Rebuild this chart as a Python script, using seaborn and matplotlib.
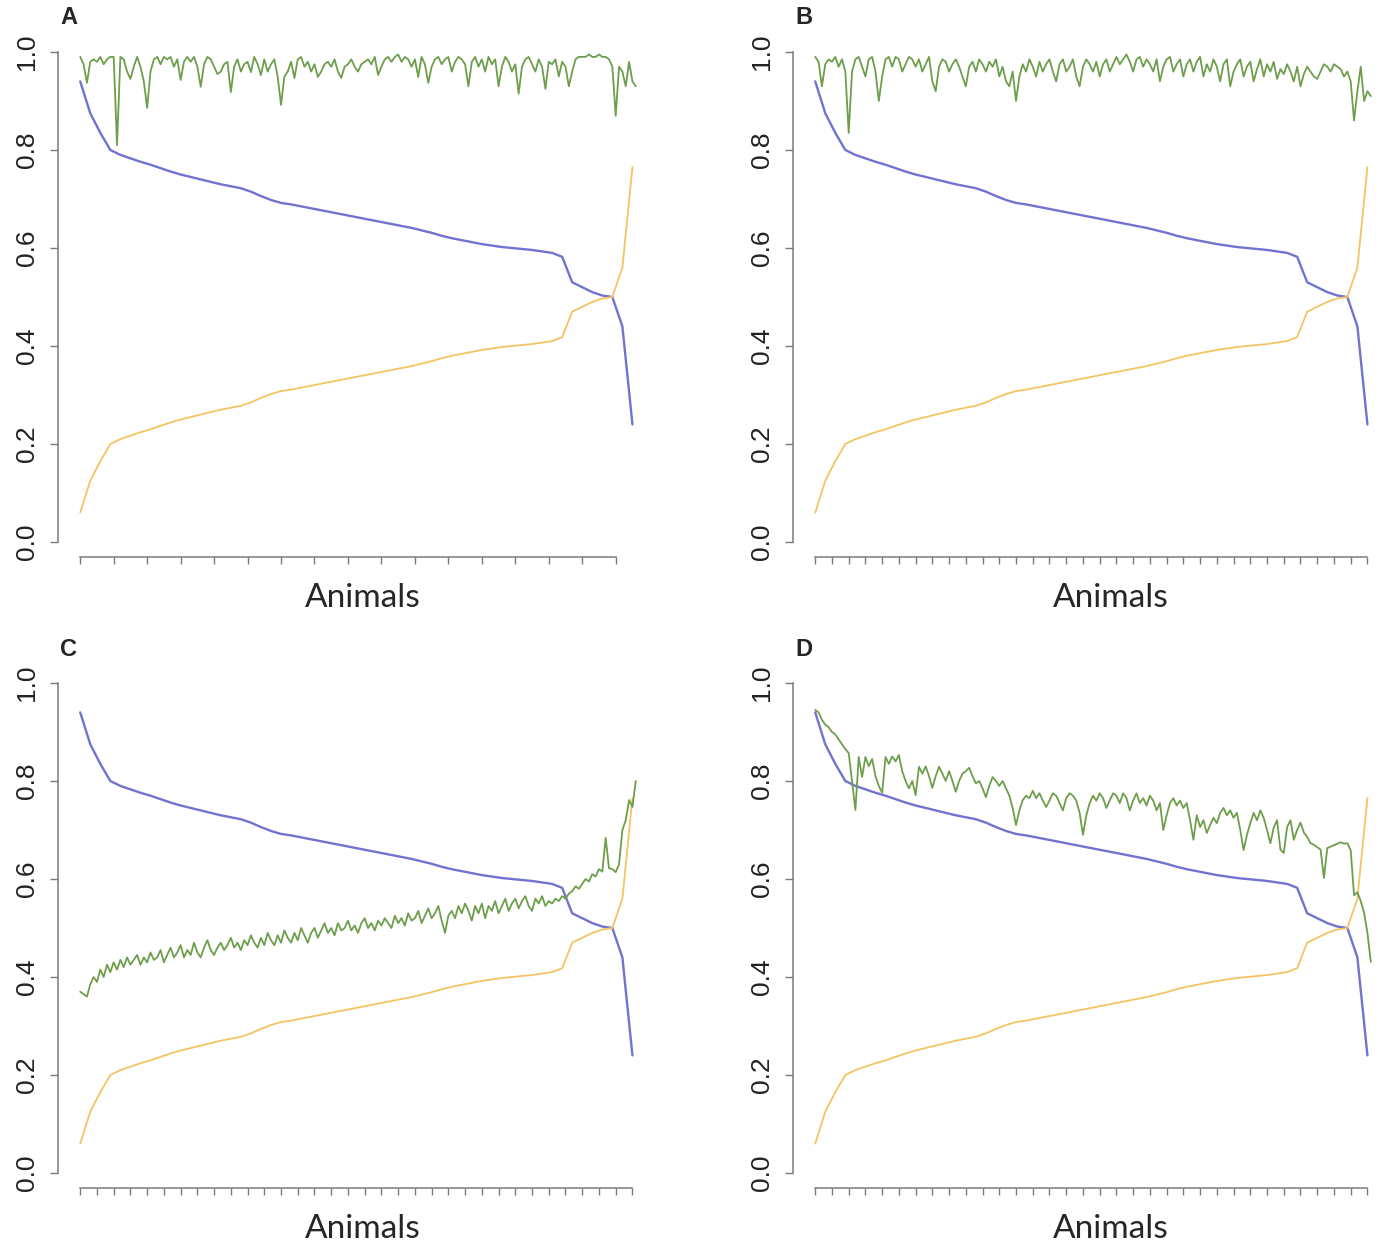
import numpy as np
import matplotlib
matplotlib.use("Agg")
import matplotlib.pyplot as plt
import seaborn as sns

# Animals ordered along the x axis
animals = np.arange(1, 168)
smooth_animals = np.arange(1, 167, 3)

# Smooth curves (same in all four panels), read every 3rd animal
blue_line = [0.940, 0.875, 0.835, 0.800, 0.790, 0.783, 0.776, 0.770, 0.763, 0.756,
             0.750, 0.745, 0.740, 0.735, 0.730, 0.726, 0.722, 0.715, 0.706, 0.698,
             0.692, 0.689, 0.685, 0.681, 0.677, 0.673, 0.669, 0.665, 0.661, 0.657,
             0.653, 0.649, 0.645, 0.641, 0.636, 0.631, 0.625, 0.620, 0.616, 0.612,
             0.608, 0.605, 0.602, 0.600, 0.598, 0.596, 0.593, 0.590, 0.582, 0.530,
             0.520, 0.510, 0.503, 0.500, 0.440, 0.240]
yellow_line = [0.060, 0.125, 0.165, 0.200, 0.210, 0.217, 0.224, 0.230, 0.237, 0.244,
               0.250, 0.255, 0.260, 0.265, 0.270, 0.274, 0.278, 0.285, 0.294, 0.302,
               0.308, 0.311, 0.315, 0.319, 0.323, 0.327, 0.331, 0.335, 0.339, 0.343,
               0.347, 0.351, 0.355, 0.359, 0.364, 0.369, 0.375, 0.380, 0.384, 0.388,
               0.392, 0.395, 0.398, 0.400, 0.402, 0.404, 0.407, 0.410, 0.418, 0.470,
               0.480, 0.490, 0.497, 0.500, 0.560, 0.765]

# Noisy green curve, one per panel
green_a = [0.99, 0.975, 0.937, 0.98, 0.985, 0.98, 0.99, 0.975, 0.985, 0.99,
           0.99, 0.81, 0.99, 0.985, 0.96, 0.945, 0.97, 0.99, 0.97, 0.94,
           0.886, 0.96, 0.985, 0.99, 0.975, 0.99, 0.985, 0.99, 0.97, 0.985,
           0.943, 0.98, 0.99, 0.98, 0.99, 0.97, 0.929, 0.975, 0.99, 0.985,
           0.97, 0.955, 0.96, 0.975, 0.98, 0.918, 0.97, 0.985, 0.96, 0.975,
           0.98, 0.959, 0.99, 0.975, 0.953, 0.985, 0.96, 0.975, 0.985, 0.95,
           0.892, 0.95, 0.96, 0.98, 0.947, 0.985, 0.99, 0.97, 0.98, 0.96,
           0.975, 0.949, 0.96, 0.975, 0.98, 0.97, 0.985, 0.96, 0.947, 0.97,
           0.975, 0.985, 0.97, 0.96, 0.975, 0.98, 0.985, 0.975, 0.99, 0.953,
           0.97, 0.985, 0.99, 0.98, 0.99, 0.995, 0.98, 0.99, 0.985, 0.97,
           0.985, 0.949, 0.99, 0.975, 0.937, 0.97, 0.985, 0.99, 0.975, 0.985,
           0.99, 0.96, 0.98, 0.99, 0.985, 0.975, 0.93, 0.98, 0.99, 0.97,
           0.985, 0.96, 0.99, 0.975, 0.985, 0.93, 0.97, 0.99, 0.98, 0.96,
           0.975, 0.915, 0.97, 0.985, 0.99, 0.975, 0.96, 0.985, 0.97, 0.925,
           0.98, 0.975, 0.985, 0.95, 0.98, 0.97, 0.93, 0.96, 0.985, 0.99,
           0.99, 0.99, 0.995, 0.99, 0.99, 0.995, 0.99, 0.99, 0.985, 0.97,
           0.87, 0.97, 0.96, 0.93, 0.98, 0.94, 0.93]
green_b = [0.99, 0.98, 0.93, 0.975, 0.985, 0.98, 0.99, 0.97, 0.985, 0.96,
           0.835, 0.96, 0.985, 0.99, 0.97, 0.95, 0.985, 0.99, 0.96, 0.90,
           0.95, 0.985, 0.99, 0.97, 0.99, 0.985, 0.96, 0.975, 0.99, 0.985,
           0.97, 0.985, 0.96, 0.975, 0.99, 0.94, 0.92, 0.97, 0.985, 0.98,
           0.96, 0.975, 0.985, 0.97, 0.95, 0.93, 0.97, 0.98, 0.96, 0.985,
           0.975, 0.96, 0.98, 0.97, 0.985, 0.95, 0.97, 0.94, 0.93, 0.96,
           0.90, 0.95, 0.975, 0.96, 0.985, 0.97, 0.95, 0.98, 0.96, 0.975,
           0.985, 0.96, 0.94, 0.975, 0.985, 0.96, 0.97, 0.985, 0.95, 0.93,
           0.97, 0.985, 0.975, 0.96, 0.98, 0.95, 0.975, 0.985, 0.96, 0.975,
           0.99, 0.975, 0.985, 0.995, 0.98, 0.96, 0.985, 0.99, 0.97, 0.985,
           0.975, 0.96, 0.985, 0.94, 0.97, 0.985, 0.99, 0.96, 0.975, 0.985,
           0.95, 0.975, 0.985, 0.96, 0.98, 0.99, 0.95, 0.975, 0.96, 0.985,
           0.97, 0.94, 0.975, 0.985, 0.93, 0.96, 0.975, 0.985, 0.95, 0.97,
           0.98, 0.94, 0.965, 0.985, 0.95, 0.975, 0.96, 0.98, 0.945, 0.965,
           0.955, 0.975, 0.96, 0.94, 0.97, 0.93, 0.955, 0.97, 0.96, 0.95,
           0.945, 0.96, 0.975, 0.97, 0.96, 0.975, 0.97, 0.965, 0.95, 0.96,
           0.94, 0.86, 0.92, 0.97, 0.90, 0.92, 0.91]
green_c = [0.37, 0.365, 0.36, 0.385, 0.40, 0.39, 0.415, 0.40, 0.425, 0.41,
           0.43, 0.415, 0.435, 0.42, 0.44, 0.425, 0.435, 0.445, 0.425, 0.44,
           0.43, 0.45, 0.435, 0.44, 0.455, 0.43, 0.445, 0.46, 0.44, 0.45,
           0.465, 0.44, 0.455, 0.445, 0.47, 0.45, 0.44, 0.46, 0.475, 0.455,
           0.445, 0.46, 0.47, 0.455, 0.465, 0.48, 0.46, 0.47, 0.455, 0.475,
           0.465, 0.485, 0.47, 0.46, 0.48, 0.465, 0.49, 0.475, 0.465, 0.485,
           0.47, 0.495, 0.48, 0.47, 0.49, 0.475, 0.50, 0.485, 0.47, 0.49,
           0.50, 0.48, 0.495, 0.51, 0.49, 0.50, 0.485, 0.51, 0.495, 0.50,
           0.515, 0.495, 0.505, 0.49, 0.51, 0.52, 0.50, 0.51, 0.495, 0.515,
           0.505, 0.52, 0.51, 0.50, 0.525, 0.51, 0.52, 0.505, 0.53, 0.515,
           0.52, 0.535, 0.51, 0.525, 0.54, 0.52, 0.53, 0.545, 0.515, 0.49,
           0.525, 0.535, 0.52, 0.545, 0.53, 0.55, 0.535, 0.515, 0.545, 0.53,
           0.55, 0.52, 0.545, 0.535, 0.555, 0.53, 0.545, 0.56, 0.535, 0.55,
           0.56, 0.54, 0.555, 0.565, 0.545, 0.535, 0.56, 0.55, 0.565, 0.545,
           0.555, 0.55, 0.56, 0.555, 0.565, 0.56, 0.57, 0.575, 0.585, 0.58,
           0.59, 0.60, 0.595, 0.61, 0.605, 0.62, 0.615, 0.684, 0.622, 0.62,
           0.614, 0.63, 0.70, 0.72, 0.761, 0.747, 0.80]
green_d = [0.945, 0.94, 0.925, 0.915, 0.91, 0.90, 0.895, 0.885, 0.875, 0.865,
           0.857, 0.80, 0.741, 0.849, 0.808, 0.849, 0.83, 0.845, 0.81, 0.79,
           0.776, 0.849, 0.835, 0.85, 0.84, 0.853, 0.82, 0.80, 0.785, 0.80,
           0.771, 0.829, 0.815, 0.83, 0.81, 0.786, 0.81, 0.829, 0.815, 0.80,
           0.82, 0.80, 0.778, 0.80, 0.815, 0.82, 0.827, 0.81, 0.795, 0.80,
           0.785, 0.767, 0.79, 0.808, 0.80, 0.79, 0.80, 0.785, 0.77, 0.745,
           0.71, 0.74, 0.761, 0.77, 0.765, 0.78, 0.765, 0.775, 0.76, 0.747,
           0.76, 0.775, 0.77, 0.755, 0.74, 0.765, 0.775, 0.77, 0.76, 0.735,
           0.69, 0.73, 0.755, 0.77, 0.76, 0.775, 0.765, 0.745, 0.76, 0.775,
           0.77, 0.755, 0.775, 0.765, 0.74, 0.76, 0.775, 0.755, 0.765, 0.75,
           0.77, 0.76, 0.74, 0.755, 0.70, 0.73, 0.755, 0.765, 0.75, 0.76,
           0.745, 0.755, 0.72, 0.68, 0.73, 0.706, 0.72, 0.694, 0.71, 0.725,
           0.714, 0.735, 0.745, 0.73, 0.74, 0.725, 0.735, 0.70, 0.659, 0.69,
           0.714, 0.735, 0.72, 0.74, 0.725, 0.70, 0.673, 0.705, 0.72, 0.66,
           0.653, 0.706, 0.72, 0.68, 0.70, 0.715, 0.695, 0.686, 0.673, 0.67,
           0.665, 0.66, 0.602, 0.663, 0.666, 0.669, 0.672, 0.675, 0.672, 0.673,
           0.659, 0.567, 0.573, 0.555, 0.531, 0.49, 0.431]

panel_labels = ["A", "B", "C", "D"]
greens = [green_a, green_b, green_c, green_d]
x_tick_steps = [10, 5, 5, 5]
y_ticks = [0.0, 0.2, 0.4, 0.6, 0.8, 1.0]
y_tick_labels = ["0.0", "0.2", "0.4", "0.6", "0.8", "1.0"]

BLUE = "#7272d0"
YELLOW = "#f3c462"
GREEN = "#6e9e4c"
AXIS_GREY = "#7a7a7a"

sns.set_style("white")
plt.rcParams["font.family"] = ["Liberation Sans", "DejaVu Sans"]

W, H = 1384, 1247
fig = plt.figure(figsize=(W / 100, H / 100), dpi=100)

# pixel layout of each panel: left edge, pixel row of y=1.0
panel_left = [58, 793, 58, 793]
panel_one = [52, 52, 683, 683]
unit = 490.0  # pixels per 1.0 on y
n = len(animals)
xpad = 0.04 * (n - 1)

for k in range(4):
    left = panel_left[k]
    top = panel_one[k] - 20
    bottom = panel_one[k] + unit + 15
    ax = fig.add_axes([left / W, 1 - bottom / H, 600 / W, (bottom - top) / H])

    sns.lineplot(x=smooth_animals, y=blue_line, ax=ax, color=BLUE, linewidth=1.7, estimator=None)
    sns.lineplot(x=smooth_animals, y=yellow_line, ax=ax, color=YELLOW, linewidth=1.3, estimator=None)
    sns.lineplot(x=animals, y=greens[k], ax=ax, color=GREEN, linewidth=1.3, estimator=None)

    ax.set_xlim(1 - xpad, n + xpad)
    ax.set_ylim(-15 / unit, 1 + 20 / unit)

    step = x_tick_steps[k]
    xt = list(range(1, n, step))
    ax.set_xticks(xt)
    ax.set_xticklabels([])
    ax.set_yticks(y_ticks)
    ax.set_yticklabels(y_tick_labels, rotation=90, va="center")
    ax.set_xlabel("")
    ax.set_ylabel("")

    for side in ["top", "right"]:
        ax.spines[side].set_visible(False)
    ax.spines["left"].set_bounds(0, 1)
    ax.spines["bottom"].set_bounds(xt[0], xt[-1])
    for side in ["left", "bottom"]:
        ax.spines[side].set_color(AXIS_GREY)
        ax.spines[side].set_linewidth(1.1)

    ax.tick_params(axis="both", direction="out", length=5.5, width=1.0, color=AXIS_GREY,
                   bottom=True, left=True)
    ax.tick_params(axis="y", labelsize=19, pad=8, labelcolor="#222222")
    ax.tick_params(axis="x", length=5)

    # panel letter and axis title
    fig.text((left + 2) / W, 1 - (panel_one[k] - 34) / H, panel_labels[k],
             fontsize=17, fontweight="bold", ha="left", va="center")
    fig.text((305 + (k % 2) * 748 + 58) / W, 1 - (panel_one[k] + 546) / H, "Animals",
             fontsize=24, family=["Lato", "DejaVu Sans"], ha="center", va="center")

fig.savefig("out.png", dpi=100, facecolor="white")
